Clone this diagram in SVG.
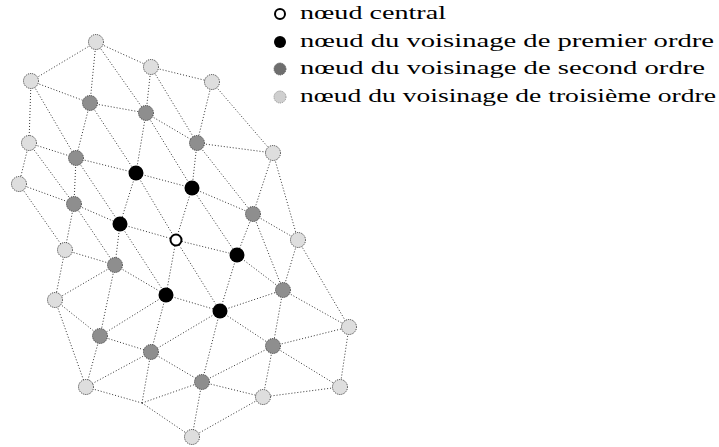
<svg xmlns="http://www.w3.org/2000/svg" width="719" height="447" viewBox="0 0 719 447">
<style>
.e{stroke:#333;stroke-width:1;stroke-dasharray:1 2;fill:none}
.t{fill:#dedede;stroke:#333;stroke-width:1;stroke-dasharray:1 1}
.s{fill:#8e8e8e;stroke:#333;stroke-width:1;stroke-dasharray:1 1}
.f{fill:#000}
.c{fill:#fff;stroke:#000;stroke-width:2}
.lbl{font-family:"Liberation Serif","DejaVu Serif",serif;font-size:19px;fill:#000}
</style>
<rect width="719" height="447" fill="#fff"/>
<g id="connectors">
<path class="e" d="M96,42L31,81M96,42L151,67M96,42L90,103M96,42L146,113
M31,81L90,103M31,81L29,143M31,81L76,158
M90,103L146,113M90,103L76,158M90,103L136,173
M151,67L146,113M151,67L212,82M151,67L197,143
M146,113L197,143M146,113L136,173M146,113L192,188
M212,82L197,143M212,82L273,153
M197,143L273,153M197,143L192,188M197,143L253,214
M273,153L253,214M273,153L298,240
M29,143L76,158M29,143L19,184M29,143L74,204
M76,158L136,173M76,158L74,204M76,158L120,224
M19,184L74,204M19,184L65,250
M74,204L120,224M74,204L65,250M74,204L115,265
M136,173L120,224M136,173L192,188M136,173L176,240
M192,188L176,240M192,188L253,214M192,188L237,255
M120,224L176,240M120,224L115,265M120,224L166,295
M176,240L237,255M176,240L166,295M176,240L220,311
M253,214L237,255M253,214L283,290M253,214L298,240
M298,240L283,290M298,240L349,327
M237,255L283,290M237,255L220,311
M65,250L115,265M65,250L55,300
M115,265L55,300M115,265L166,295M115,265L100,336
M166,295L220,311M166,295L100,336M166,295L151,352
M220,311L283,290M220,311L273,346M220,311L202,382M220,311L151,352
M283,290L349,327M283,290L273,346
M55,300L100,336M55,300L86,387
M100,336L151,352M100,336L86,387
M151,352L86,387M151,352L142,403M151,352L202,382
M142,403L86,387M142,403L202,382M142,403L192,437
M202,382L273,346M202,382L192,437M202,382L263,397
M273,346L349,327M273,346L340,387M273,346L263,397
M349,327L340,387M340,387L263,397M263,397L192,437"/>
</g>
<g id="n-t1"><circle class="t" cx="96" cy="42" r="7.5"/></g>
<g id="n-t2"><circle class="t" cx="31" cy="81" r="7.5"/></g>
<g id="n-t3"><circle class="t" cx="151" cy="67" r="7.5"/></g>
<g id="n-t4"><circle class="t" cx="212" cy="82" r="7.5"/></g>
<g id="n-t5"><circle class="t" cx="29" cy="143" r="7.5"/></g>
<g id="n-t6"><circle class="t" cx="273" cy="153" r="7.5"/></g>
<g id="n-t7"><circle class="t" cx="19" cy="184" r="7.5"/></g>
<g id="n-t8"><circle class="t" cx="65" cy="250" r="7.5"/></g>
<g id="n-t9"><circle class="t" cx="298" cy="240" r="7.5"/></g>
<g id="n-t10"><circle class="t" cx="55" cy="300" r="7.5"/></g>
<g id="n-t11"><circle class="t" cx="349" cy="327" r="7.5"/></g>
<g id="n-t12"><circle class="t" cx="86" cy="387" r="7.5"/></g>
<g id="n-t13"><circle class="t" cx="340" cy="387" r="7.5"/></g>
<g id="n-t14"><circle class="t" cx="263" cy="397" r="7.5"/></g>
<g id="n-t15"><circle class="t" cx="192" cy="437" r="7.5"/></g>
<g id="n-s1"><circle class="s" cx="90" cy="103" r="7.5"/></g>
<g id="n-s2"><circle class="s" cx="146" cy="113" r="7.5"/></g>
<g id="n-s3"><circle class="s" cx="197" cy="143" r="7.5"/></g>
<g id="n-s4"><circle class="s" cx="76" cy="158" r="7.5"/></g>
<g id="n-s5"><circle class="s" cx="74" cy="204" r="7.5"/></g>
<g id="n-s6"><circle class="s" cx="253" cy="214" r="7.5"/></g>
<g id="n-s7"><circle class="s" cx="115" cy="265" r="7.5"/></g>
<g id="n-s8"><circle class="s" cx="283" cy="290" r="7.5"/></g>
<g id="n-s9"><circle class="s" cx="100" cy="336" r="7.5"/></g>
<g id="n-s10"><circle class="s" cx="151" cy="352" r="7.5"/></g>
<g id="n-s11"><circle class="s" cx="273" cy="346" r="7.5"/></g>
<g id="n-s12"><circle class="s" cx="202" cy="382" r="7.5"/></g>
<g id="n-f1"><circle class="f" cx="136" cy="173" r="7.5"/></g>
<g id="n-f2"><circle class="f" cx="192" cy="188" r="7.5"/></g>
<g id="n-f3"><circle class="f" cx="120" cy="224" r="7.5"/></g>
<g id="n-f4"><circle class="f" cx="237" cy="255" r="7.5"/></g>
<g id="n-f5"><circle class="f" cx="166" cy="295" r="7.5"/></g>
<g id="n-f6"><circle class="f" cx="220" cy="311" r="7.5"/></g>
<g id="n-c"><circle class="c" cx="176" cy="240" r="5.5"/></g>
<g id="legend">
<circle cx="280" cy="14" r="5" fill="#fff" stroke="#000" stroke-width="2"/>
<circle cx="280" cy="42" r="6" fill="#000"/>
<circle cx="280" cy="69" r="6" fill="#6e6e6e" stroke="#555" stroke-width="1" stroke-dasharray="1 1"/>
<circle cx="280" cy="97" r="6" fill="#cfcfcf" stroke="#888" stroke-width="1" stroke-dasharray="1 1"/>
<text class="lbl" x="300" y="19" textLength="146" lengthAdjust="spacingAndGlyphs">nœud central</text>
<text class="lbl" x="300" y="47" textLength="414" lengthAdjust="spacingAndGlyphs">nœud du voisinage de premier ordre</text>
<text class="lbl" x="300" y="74" textLength="405" lengthAdjust="spacingAndGlyphs">nœud du voisinage de second ordre</text>
<text class="lbl" x="300" y="102" textLength="416" lengthAdjust="spacingAndGlyphs">nœud du voisinage de troisième ordre</text>
</g>
</svg>
